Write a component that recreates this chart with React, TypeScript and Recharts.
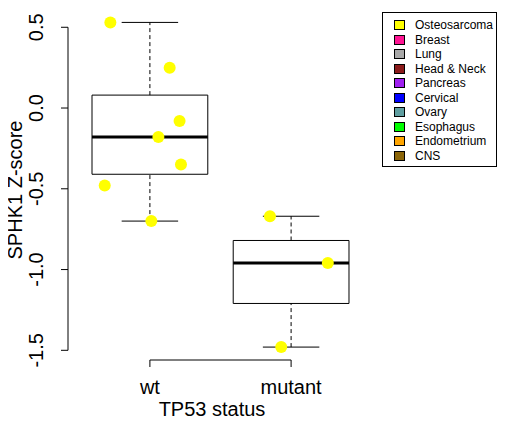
import React from "react";
import { ComposedChart, Scatter, XAxis, YAxis, ReferenceArea, ReferenceLine } from "recharts";

const categories = ["wt", "mutant"];
const boxStats = [
  { x: 1, lo: -0.70, q1: -0.41, med: -0.18, q3: 0.08, hi: 0.53 },
  { x: 2, lo: -1.48, q1: -1.21, med: -0.96, q3: -0.82, hi: -0.67 },
];
const points = [
  { x: 0.72, y: 0.53 }, { x: 1.14, y: 0.25 }, { x: 1.21, y: -0.08 }, { x: 1.06, y: -0.18 },
  { x: 1.22, y: -0.35 }, { x: 0.68, y: -0.48 }, { x: 1.01, y: -0.70 },
  { x: 1.85, y: -0.67 }, { x: 2.26, y: -0.96 }, { x: 1.93, y: -1.48 },
];
const yTicks = [-1.5, -1.0, -0.5, 0.0, 0.5];
const legendItems = [
  { name: "Osteosarcoma", color: "#FFFF00" },
  { name: "Breast", color: "#FF1493" },
  { name: "Lung", color: "#A9A9A9" },
  { name: "Head & Neck", color: "#8B1A1A" },
  { name: "Pancreas", color: "#A020F0" },
  { name: "Cervical", color: "#0000FF" },
  { name: "Ovary", color: "#5F9EA0" },
  { name: "Esophagus", color: "#00FF00" },
  { name: "Endometrium", color: "#FFA500" },
  { name: "CNS", color: "#8B6508" },
];

const font = "Liberation Sans, Arial, sans-serif";
const BW = 0.41, CW = 0.2;

const YTick = (p: any) => (
  <text x={p.x - 16} y={p.y} transform={`rotate(-90 ${p.x - 16} ${p.y})`} textAnchor="middle" fontSize={20} fontFamily={font} fill="#000">
    {p.payload.value.toFixed(1)}
  </text>
);
const XTick = (p: any) => (
  <text x={p.x} y={p.y + 25} textAnchor="middle" fontSize={20} fontFamily={font} fill="#000">
    {categories[p.payload.value - 1]}
  </text>
);

export default function App() {
  return (
    <div style={{ position: "relative", width: 508, height: 424 }}>
      <ComposedChart width={508} height={424} margin={{ top: 1.5, right: 143, bottom: 0, left: 0 }}>
        <XAxis type="number" dataKey="x" domain={[0.42, 2.58]} ticks={[1, 2]} allowDataOverflow
          axisLine={false} tickLine={{ stroke: "#000" }} tickSize={7} tick={<XTick />} height={72} />
        <YAxis type="number" dataKey="y" domain={[-1.56, 0.61]} ticks={yTicks} allowDataOverflow
          axisLine={false} tickLine={{ stroke: "#000" }} tickSize={7} tick={<YTick />} width={60} />
        <ReferenceLine segment={[{ x: 0.42, y: -1.5 }, { x: 0.42, y: 0.5 }]} stroke="#000" ifOverflow="visible" />
        <ReferenceLine segment={[{ x: 1, y: -1.56 }, { x: 2, y: -1.56 }]} stroke="#000" ifOverflow="visible" />
        {boxStats.map((b) => (
          <React.Fragment key={b.x}>
            <ReferenceLine segment={[{ x: b.x, y: b.q3 }, { x: b.x, y: b.hi }]} stroke="#000" strokeDasharray="4 3" />
            <ReferenceLine segment={[{ x: b.x, y: b.lo }, { x: b.x, y: b.q1 }]} stroke="#000" strokeDasharray="4 3" />
            <ReferenceLine segment={[{ x: b.x - CW, y: b.hi }, { x: b.x + CW, y: b.hi }]} stroke="#000" />
            <ReferenceLine segment={[{ x: b.x - CW, y: b.lo }, { x: b.x + CW, y: b.lo }]} stroke="#000" />
            <ReferenceArea x1={b.x - BW} x2={b.x + BW} y1={b.q1} y2={b.q3} fill="#fff" fillOpacity={1} stroke="#000" />
            <ReferenceLine segment={[{ x: b.x - BW, y: b.med }, { x: b.x + BW, y: b.med }]} stroke="#000" strokeWidth={3} />
          </React.Fragment>
        ))}
        <Scatter data={points} fill="#FFFF00" isAnimationActive={false}
          shape={(p: any) => <circle cx={p.cx} cy={p.cy} r={6} fill="#FFFF00" />} />
      </ComposedChart>
      <div style={{ position: "absolute", left: 204, top: 390, width: 0, fontFamily: font, fontSize: 20, whiteSpace: "nowrap" }}>
        <span style={{ position: "absolute", transform: "translateX(-50%)" }}>TP53 status</span>
      </div>
      <div style={{ position: "absolute", left: 0, top: 182, width: 0, height: 0, fontFamily: font, fontSize: 20 }}>
        <span style={{ position: "absolute", left: 7, top: 0, whiteSpace: "nowrap", transform: "translate(-50%,-50%) rotate(-90deg)" }}>SPHK1 Z-score</span>
      </div>
      <div style={{ position: "absolute", left: 374, top: 4, width: 115, height: 155, border: "1px solid #000", boxSizing: "border-box", fontFamily: font, fontSize: 12, paddingTop: 5 }}>
        {legendItems.map((it) => (
          <div key={it.name} style={{ display: "flex", alignItems: "center", height: 14.5, paddingLeft: 11 }}>
            <span style={{ width: 9, height: 8, background: it.color, border: "1px solid #000", marginRight: 10, display: "inline-block" }} />
            <span>{it.name}</span>
          </div>
        ))}
      </div>
    </div>
  );
}
